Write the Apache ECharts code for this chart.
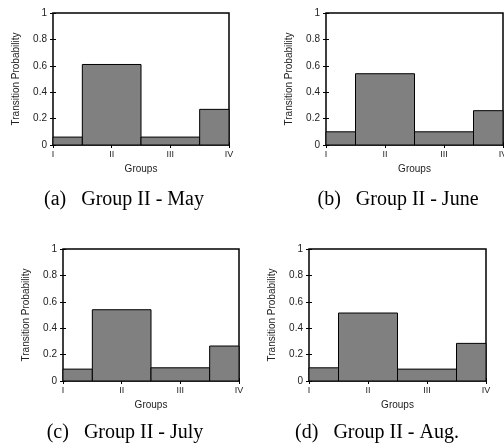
<!DOCTYPE html>
<html>
<head>
<meta charset="utf-8">
<script src="https://cdn.jsdelivr.net/npm/echarts@6/dist/echarts.min.js"></script>
<style>
html, body { margin: 0; padding: 0; background: #fff; }
#main { width: 504px; height: 445px; }
</style>
</head>
<body>
<div id="main"></div>
<script>
// group names on the x axis
var groupNames = ['I', 'II', 'III', 'IV'];
// transition probabilities from group II, per month
var mayVals = [0.06, 0.61, 0.06, 0.27];
var juneVals = [0.10, 0.54, 0.10, 0.26];
var julyVals = [0.09, 0.54, 0.10, 0.265];
var augVals = [0.10, 0.515, 0.09, 0.285];
var captions = ['(a)   Group II - May', '(b)   Group II - June', '(c)   Group II - July', '(d)   Group II - Aug.'];

var panels = [
	{ vals: mayVals, left: 53, top: 13, width: 176, capX: 124, capY: 200 },
	{ vals: juneVals, left: 326, top: 13, width: 177, capX: 398, capY: 200 },
	{ vals: julyVals, left: 63, top: 249, width: 176, capX: 125, capY: 433 },
	{ vals: augVals, left: 309, top: 249, width: 177, capX: 377, capY: 433 }
];

var chart = echarts.init(document.getElementById('main'));

var sans = 'Liberation Sans, Arial, sans-serif';
var nameStyle = { color: '#222', fontSize: 10, fontFamily: sans };

var option = {
	animation: false,
	grid: [],
	xAxis: [],
	yAxis: [],
	series: [],
	graphic: []
};

function tickAxis(extra) {
	var a = {
		type: 'value',
		axisLine: { show: false },
		axisTick: { show: true, inside: true, length: 3, lineStyle: { color: '#000', width: 1 } },
		splitLine: { show: false }
	};
	for (var k in extra) a[k] = extra[k];
	return a;
}

panels.forEach(function(p, i) {
	option.grid.push({
		left: p.left, top: p.top, width: p.width, height: 132,
		outerBoundsMode: 'none', containLabel: false,
		show: true, borderColor: '#000', borderWidth: 1.5, backgroundColor: 'transparent'
	});
	// bottom axis with labels
	option.xAxis.push(tickAxis({
		gridIndex: i, min: 0, max: 3, interval: 1,
		name: 'Groups', nameLocation: 'middle', nameGap: 19,
		nameTextStyle: nameStyle,
		axisLabel: {
			margin: 5, color: '#222', fontSize: 9, fontFamily: sans,
			formatter: function(v) { return groupNames[v] || ''; }
		}
	}));
	// top axis, ticks only
	option.xAxis.push(tickAxis({
		gridIndex: i, min: 0, max: 3, interval: 1, position: 'top',
		axisLabel: { show: false }
	}));
	option.yAxis.push(tickAxis({
		gridIndex: i, min: 0, max: 1, interval: 0.2,
		name: 'Transition Probability', nameLocation: 'middle', nameGap: 32,
		nameTextStyle: nameStyle,
		axisLabel: {
			margin: 6, color: '#222', fontSize: 10, fontFamily: sans,
			formatter: function(v) { return String(Math.round(v * 10) / 10); }
		}
	}));
	// right axis, ticks only
	option.yAxis.push(tickAxis({
		gridIndex: i, min: 0, max: 1, interval: 0.2, position: 'right',
		axisLabel: { show: false }
	}));
	option.series.push({
		type: 'custom',
		xAxisIndex: i * 2,
		yAxisIndex: i * 2,
		data: p.vals.map(function(v, k) { return [k, v]; }),
		renderItem: function(params, api) {
			var x = api.value(0);
			var v = api.value(1);
			var p0 = api.coord([x - 0.5, v]);
			var p1 = api.coord([x + 0.5, 0]);
			var rect = echarts.graphic.clipRectByRect({
				x: p0[0], y: p0[1], width: p1[0] - p0[0], height: p1[1] - p0[1]
			}, {
				x: params.coordSys.x, y: params.coordSys.y,
				width: params.coordSys.width, height: params.coordSys.height
			});
			if (!rect) return;
			return {
				type: 'rect',
				shape: rect,
				style: { fill: '#808080', stroke: '#000', lineWidth: 1 }
			};
		},
		z: 1
	});
	option.graphic.push({
		type: 'text',
		x: p.capX, y: p.capY,
		style: {
			text: captions[i],
			fill: '#000',
			font: '20px "Liberation Serif", "Times New Roman", serif',
			align: 'center', verticalAlign: 'middle'
		}
	});
});

chart.setOption(option);
</script>
</body>
</html>
